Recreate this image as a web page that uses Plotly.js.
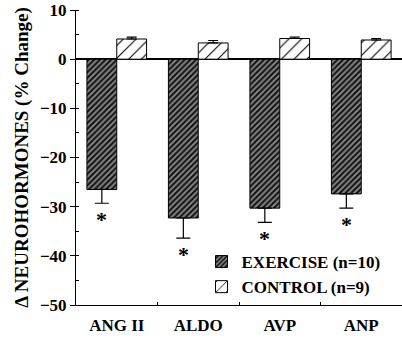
<!DOCTYPE html>
<html>
<head>
<meta charset="utf-8">
<script src="https://cdn.plot.ly/plotly-3.0.1.min.js"></script>
<style>html,body{margin:0;padding:0;background:#fff;}#chart{width:402px;height:338px;}</style>
</head>
<body>
<div id="chart"></div>
<script>
var categories = ["ANG II", "ALDO", "AVP", "ANP"];
var exerciseValues = [-26.5, -32.3, -30.3, -27.4];
var exerciseErr = [2.8, 4.1, 2.9, 2.9];
var controlValues = [4.1, 3.3, 4.2, 3.9];
var controlErr = [0.4, 0.5, 0.3, 0.3];
var yTickVals = [10, 0, -10, -20, -30, -40, -50];

var serif = "Liberation Serif, Times New Roman, serif";

var exercise = {
  type: "bar", name: "<b>EXERCISE (n=10)</b>", x: categories, y: exerciseValues,
  marker: {color: "#7a7a7a", line: {color: "#000", width: 1},
    pattern: {shape: "/", fillmode: "replace", bgcolor: "#858585", fgcolor: "#111", size: 4, solidity: 0.5}},
  error_y: {type: "data", symmetric: false, array: exerciseValues.map(function(){return 0;}), arrayminus: exerciseErr,
    color: "#000", thickness: 1.2, width: 7},
  cliponaxis: false
};
var control = {
  type: "bar", name: "<b>CONTROL (n=9)</b>", x: categories, y: controlValues,
  marker: {color: "#fff", line: {color: "#000", width: 1},
    pattern: {shape: "/", fillmode: "replace", bgcolor: "#fff", fgcolor: "#000", size: 9, solidity: 0.12}},
  error_y: {type: "data", symmetric: false, array: controlErr, arrayminus: controlValues.map(function(){return 0;}),
    color: "#000", thickness: 1.2, width: 5}
};

var annotations = categories.map(function(c, i){
  return {x: c, y: exerciseValues[i] - exerciseErr[i], xref: "x", yref: "y",
    text: "<b>*</b>", showarrow: false, xshift: -15, yshift: -2, yanchor: "top",
    font: {family: serif, size: 22, color: "#000"}};
});

var layout = {
  width: 402, height: 338,
  margin: {l: 76, r: 0, t: 10, b: 33},
  paper_bgcolor: "#fff", plot_bgcolor: "#fff",
  barmode: "group", bargap: 0.268, bargroupgap: 0,
  showlegend: true,
  legend: {x: 0.385, y: 0.0, xanchor: "left", yanchor: "bottom", bgcolor: "rgba(0,0,0,0)",
    font: {family: serif, size: 17, color: "#000"}, itemwidth: 30, tracegroupgap: 0},
  xaxis: {showline: true, linecolor: "#000", linewidth: 1, ticks: "inside", ticklen: 3, tickson: "boundaries",
    tickcolor: "#000", showgrid: false, zeroline: false,
    tickfont: {family: serif, size: 17, color: "#000", weight: "bold"}, ticklabelstandoff: 5},
  yaxis: {range: [-50, 10], showline: true, linecolor: "#000", linewidth: 1, ticks: "outside", ticklen: 5,
    tickcolor: "#000", tickvals: yTickVals, showgrid: false,
    zeroline: true, zerolinecolor: "#000", zerolinewidth: 1.5,
    minor: {dtick: 5, ticks: "inside", ticklen: 3, tickcolor: "#000"},
    tickfont: {family: serif, size: 17, color: "#000", weight: "bold"},
    title: {text: "<b>Δ NEUROHORMONES (% Change)</b>", font: {family: serif, size: 19, color: "#000"}, standoff: 6}},
  annotations: annotations
};

Plotly.newPlot("chart", [exercise, control], layout, {displayModeBar: false, staticPlot: true});
</script>
</body>
</html>
